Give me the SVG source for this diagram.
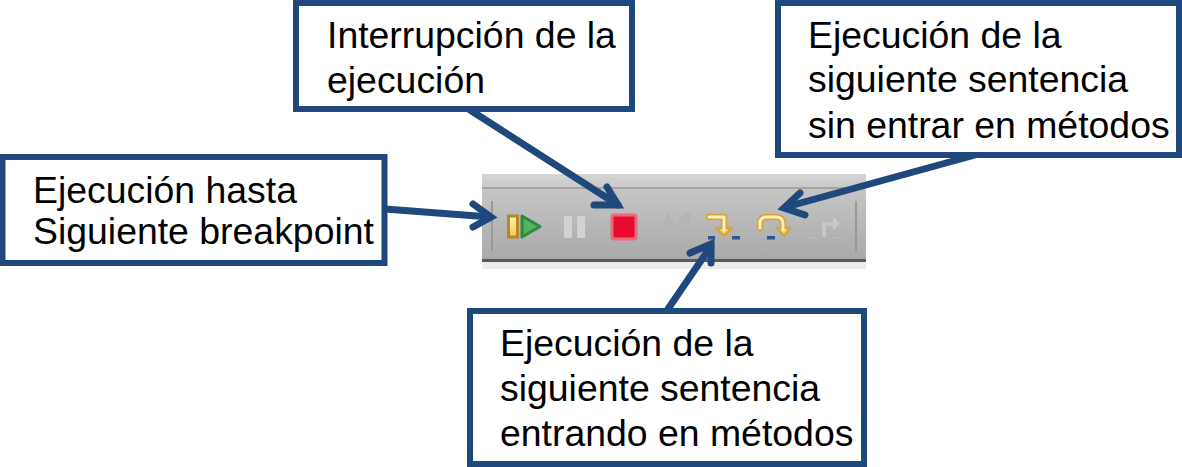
<svg xmlns="http://www.w3.org/2000/svg" width="1182" height="467" viewBox="0 0 1182 467">
<style>
.box{fill:#fff;stroke:#1f497d;stroke-width:6}
.t{font-family:"Liberation Sans",Arial,sans-serif;font-size:37.4px;fill:#000}
.c{fill:none;stroke:#1f497d;stroke-width:7;stroke-linecap:round;stroke-linejoin:miter}
.gold{fill:none;stroke:#d9a441;stroke-width:6.500;stroke-linejoin:round;stroke-linecap:round}
.goldi{fill:none;stroke:#fdf0b8;stroke-width:3;stroke-linejoin:round;stroke-linecap:round}
.dash{fill:#2f5688}
.dim{fill:none;stroke:#c8c8c8;stroke-width:3.500}
</style>
<defs>
<linearGradient id="bar" x1="0" y1="0" x2="0" y2="1"><stop offset="0" stop-color="#c6c6c6"/><stop offset="1" stop-color="#a9a9a9"/></linearGradient>
<linearGradient id="top" x1="0" y1="0" x2="0" y2="1"><stop offset="0" stop-color="#d6d6d6"/><stop offset="1" stop-color="#c8c8c8"/></linearGradient>
<linearGradient id="yel" x1="0" y1="0" x2="0" y2="1"><stop offset="0" stop-color="#fdf3a8"/><stop offset="1" stop-color="#f3c94b"/></linearGradient>
<filter id="b" x="-20%" y="-20%" width="140%" height="140%"><feGaussianBlur stdDeviation="0.7"/></filter>
</defs>
<g id="toolbar">
<rect x="482" y="174" width="384" height="14" fill="url(#top)"/>
<rect x="482" y="187" width="384" height="73" fill="url(#bar)"/>
<rect x="482" y="187" width="384" height="2" fill="#a5a5a5"/>
<rect x="482" y="259" width="384" height="3" fill="#5a5a5a"/>
<rect x="482" y="262" width="384" height="7" fill="#ececec"/>
<rect x="491" y="201" width="2" height="50" fill="#999"/>
<rect x="855" y="201" width="2" height="50" fill="#999"/>
<g filter="url(#b)">
<rect x="508.500" y="216" width="9" height="21" fill="url(#yel)" stroke="#b08a2a" stroke-width="3"/>
<path d="M522 216 L540 226.500 L522 237Z" fill="#55b45a" stroke="#2f8a45" stroke-width="3" stroke-linejoin="round"/>
<rect x="564" y="216" width="8" height="22" fill="#d2d2d2"/>
<rect x="577" y="216" width="8" height="22" fill="#d2d2d2"/>
<rect x="612" y="215" width="24" height="24" rx="2" fill="#e8112d" stroke="#ea6a78" stroke-width="3"/>
<path d="M662 234 L668 216 L676 233 L682 217M660 235h5M672 236h5M684 215h5v6h-5z" fill="none" stroke="#b4b4b4" stroke-width="3"/>
<rect x="708" y="236" width="7" height="3.500" class="dash"/>
<rect x="732" y="236" width="8" height="3.500" class="dash"/>
<rect x="767" y="236" width="8" height="3.500" class="dash"/>
<path d="M709 217 H724 V230" class="gold"/>
<path d="M716 228 H732 L724 236Z" fill="#f6d663" stroke="#d9a441" stroke-width="2.500" stroke-linejoin="round"/>
<path d="M709 217 H724 V230" class="goldi"/>
<path d="M760 228 V223 Q760 217 767 217 H776 Q783 217 783 224 V230" class="gold"/>
<path d="M777 228 H790 L784 236Z" fill="#f6d663" stroke="#d9a441" stroke-width="2.500" stroke-linejoin="round"/>
<path d="M760 228 V223 Q760 217 767 217 H776 Q783 217 783 224 V230" class="goldi"/>
<path d="M824 237 V224 H834" class="dim"/>
<path d="M833 217 L840 223.500 L833 230Z" fill="#c8c8c8"/>
<path d="M808 238h9M833 238h9" fill="none" stroke="#b8b8b8" stroke-width="2"/>
</g>
</g>
<g id="connectors">
<path class="c" d="M385 209 L490 217"/>
<path class="c" d="M473 204 L491 217 L473 227"/>
<path class="c" d="M470 110 L618 205"/>
<path class="c" d="M607 187 L618 205 L594 205"/>
<path class="c" d="M975 155 L786 207"/>
<path class="c" d="M800 193 L784 208 L805 215"/>
<path class="c" d="M668 309 L711 246"/>
<path class="c" d="M690 253 L711 244 L711 263"/>
</g>
<g id="node-breakpoint">
<rect class="box" x="2.500" y="157" width="382" height="106"/>
<text class="t" x="33" y="203">Ejecución hasta</text>
<text class="t" x="33" y="244">Siguiente breakpoint</text>
</g>
<g id="node-interrupcion">
<rect class="box" x="296" y="3" width="336" height="106"/>
<text class="t" x="327" y="48">Interrupción de la</text>
<text class="t" x="327" y="93">ejecución</text>
</g>
<g id="node-sin-entrar">
<rect class="box" x="778" y="3" width="401" height="152"/>
<text class="t" x="808" y="48">Ejecución de la</text>
<text class="t" x="808" y="92">siguiente sentencia</text>
<text class="t" x="808" y="138">sin entrar en métodos</text>
</g>
<g id="node-entrando">
<rect class="box" x="470" y="311" width="394" height="153"/>
<text class="t" x="500" y="356">Ejecución de la</text>
<text class="t" x="500" y="401">siguiente sentencia</text>
<text class="t" x="500" y="446">entrando en métodos</text>
</g>
</svg>
